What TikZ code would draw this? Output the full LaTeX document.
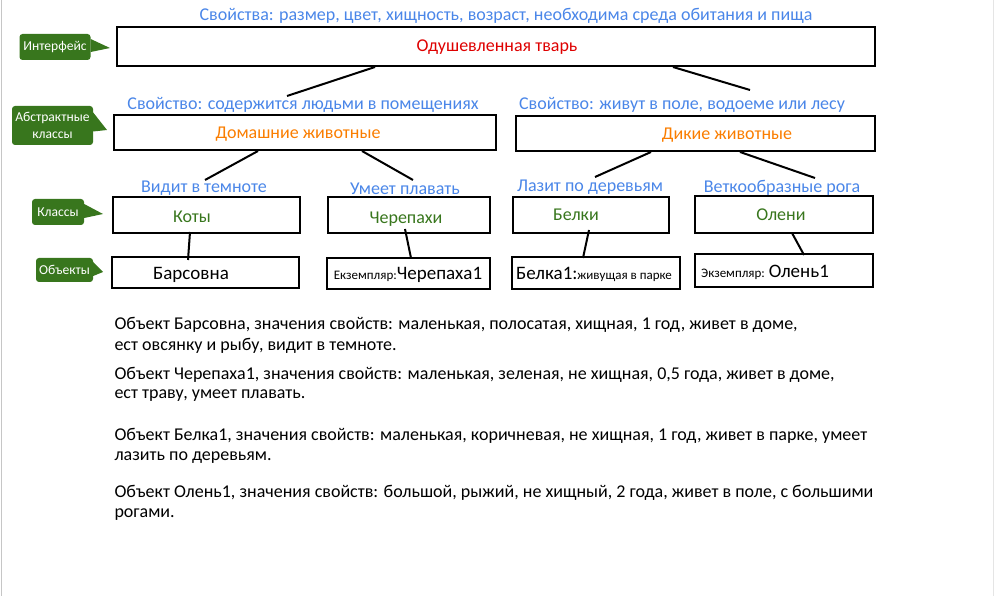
\documentclass[tikz,border=0pt]{standalone}
\usepackage{fontspec}
\setmainfont{Carlito}
\definecolor{propblue}{RGB}{74,134,232}
\definecolor{tagGreen}{RGB}{56,118,29}
\definecolor{absOrange}{RGB}{250,125,0}
\definecolor{ifaceRed}{RGB}{222,0,0}
\begin{document}
\begin{tikzpicture}
[
	x=1pt,y=-1pt,
	box/.style={draw,line width=2pt,inner sep=0pt},
	prop/.style={text=propblue,yshift=-2pt,font=\fontsize{18}{20}\selectfont},
	label/.style={yshift=-1.5pt,font=\fontsize{18}{20}\selectfont},
	tag/.style={fill=tagGreen,rounded corners=3pt,text=white,inner sep=0pt,align=center,font=\fontsize{13.6}{17}\selectfont},
	link/.style={line width=2pt},
	body/.style={anchor=west,yshift=-3pt,font=\fontsize{18}{20}\selectfont}
]

	\useasboundingbox (0,0) rectangle (994,596);
	\draw[gray!45] (1,0) -- (1,596);
	\draw[gray!20] (993,0) -- (993,596);

	% interface level
	\node[prop] at (506,14) (ptitle) {Свойства: размер, цвет, хищность, возраст, необходима среда обитания и пища};
	\node[box,minimum width=758pt,minimum height=39pt] at (496,46.5) (iface) {};
	\node[label,text=ifaceRed] at (497,46) (tiface) {Одушевленная тварь};

	% abstract classes
	\node[prop] at (303,103) (pdom) {Свойство: содержится людьми в помещениях};
	\node[prop] at (682,103) (pwild) {Свойство: живут в поле, водоеме или лесу};
	\node[box,minimum width=382pt,minimum height=35pt] at (305,132.5) (dom) {};
	\node[box,minimum width=359pt,minimum height=35pt] at (695.5,133.5) (wild) {};
	\node[label,text=absOrange] at (298,133) (tdom) {Домашние животные};
	\node[label,text=absOrange] at (727,134) (twild) {Дикие животные};

	\coordinate (cdom) at (287,96);
	\coordinate (cwild) at (750,90);
	\draw[link] ([xshift=-121pt]iface.south) -- (cdom);
	\draw[link] ([xshift=177pt]iface.south) -- (cwild);

	% classes
	\node[prop] at (204,186) (pkoty) {Видит в темноте};
	\node[prop] at (405,187) (pcher) {Умеет плавать};
	\node[prop] at (590,185) (pbelki) {Лазит по деревьям};
	\node[prop] at (782,186) (poleni) {Веткообразные рога};

	\coordinate (ckoty) at (205,180);
	\coordinate (ccher) at (413,180);
	\coordinate (cbelki) at (595,177);
	\coordinate (coleni) at (815,178);
	\draw[link] ([xshift=-47pt]dom.south) -- (ckoty);
	\draw[link] ([xshift=57pt]dom.south) -- (ccher);
	\draw[link] ([xshift=-44.5pt]wild.south) -- (cbelki);
	\draw[link] ([xshift=44.5pt]wild.south) -- (coleni);

	\node[box,minimum width=187pt,minimum height=36pt] at (206.5,215) (koty) {};
	\node[box,minimum width=162pt,minimum height=36pt] at (409,215) (cher) {};
	\node[box,minimum width=156pt,minimum height=36pt] at (591,215) (belki) {};
	\node[box,minimum width=178pt,minimum height=37pt] at (784,214.5) (oleni) {};
	\node[label,text=tagGreen] at (192,215) (tkoty) {Коты};
	\node[label,text=tagGreen] at (406,218) (tcher) {Черепахи};
	\node[label,text=tagGreen] at (576,213) (tbelki) {Белки};
	\node[label,text=tagGreen] at (781,213) (toleni) {Олени};

	% objects
	\node[box,minimum width=187pt,minimum height=31pt] at (205.5,272.5) (bars) {};
	\node[box,minimum width=163pt,minimum height=31pt] at (408.5,273.5) (cher1) {};
	\node[box,minimum width=168pt,minimum height=32pt] at (596,273) (belka1) {};
	\node[box,minimum width=178pt,minimum height=33pt] at (784,270.5) (olen1) {};
	\node[yshift=-1.5pt,font=\fontsize{19}{20}\selectfont] at (191,273) (tbars) {Барсовна};
	\node[yshift=-1.5pt,font=\fontsize{19}{20}\selectfont] at (408,273) (tcher1) {{\fontsize{13}{14}\selectfont Екземпляр:}Черепаха1};
	\node[yshift=-1.5pt,font=\fontsize{19}{20}\selectfont] at (594,273) (tbelka1) {Белка1:{\fontsize{13}{14}\selectfont живущая в парке}};
	\node[yshift=-1.5pt,font=\fontsize{19}{20}\selectfont] at (765,271) (tolen1) {{\fontsize{13}{14}\selectfont Экземпляр: }Олень1};

	\draw[link] ([xshift=-16.5pt,yshift=2pt]koty.south) -- ([xshift=-17.5pt,yshift=-4pt]bars.north);
	\draw[link] ([xshift=-4pt,yshift=5pt]cher.south) -- ([xshift=2.5pt,yshift=-1pt]cher1.north);
	\draw[link] ([xshift=-2pt,yshift=4pt]belki.south) -- ([xshift=-13pt,yshift=-2pt]belka1.north);
	\draw[link] ([xshift=8pt,yshift=1pt]oleni.south) -- ([xshift=20pt,yshift=-2pt]olen1.north);

	% tags on the left
	\node[tag,minimum width=71pt,minimum height=26pt] at (55,47) (gface) {Интерфейс};
	\fill[tagGreen] ([yshift=-5pt]gface.east) -- (110,48) -- ([yshift=8pt]gface.east) -- cycle;
	\node[tag,minimum width=81pt,minimum height=39pt] at (52.5,125.5) (gabs) {Абстрактные\\классы};
	\fill[tagGreen] ([yshift=-6pt]gabs.east) -- (107,130) -- ([yshift=13pt]gabs.east) -- cycle;
	\node[tag,minimum width=52pt,minimum height=26pt] at (58,212) (gcls) {Классы};
	\fill[tagGreen] ([yshift=-6pt]gcls.east) -- (103,214) -- ([yshift=8pt]gcls.east) -- cycle;
	\node[tag,minimum width=57pt,minimum height=24pt] at (64.5,270) (gobj) {Объекты};
	\fill[tagGreen] ([yshift=-6pt]gobj.east) -- (103,272) -- ([yshift=8pt]gobj.east) -- cycle;

	% object descriptions
	\node[body] at (111,322) (d1a) {Объект Барсовна, значения свойств: маленькая, полосатая, хищная, 1 год, живет в доме,};
	\node[body] at (111,343) (d1b) {ест овсянку и рыбу, видит в темноте.};
	\node[body] at (111,372) (d2a) {Объект Черепаха1, значения свойств: маленькая, зеленая, не хищная, 0,5 года, живет в доме,};
	\node[body] at (111,393) (d2b) {ест траву, умеет плавать.};
	\node[body] at (111,433) (d3a) {Объект Белка1, значения свойств: маленькая, коричневая, не хищная, 1 год, живет в парке, умеет};
	\node[body] at (111,455) (d3b) {лазить по деревьям.};
	\node[body] at (111,490) (d4a) {Объект Олень1, значения свойств: большой, рыжий, не хищный, 2 года, живет в поле, с большими};
	\node[body] at (111,512) (d4b) {рогами.};

\end{tikzpicture}
\end{document}
